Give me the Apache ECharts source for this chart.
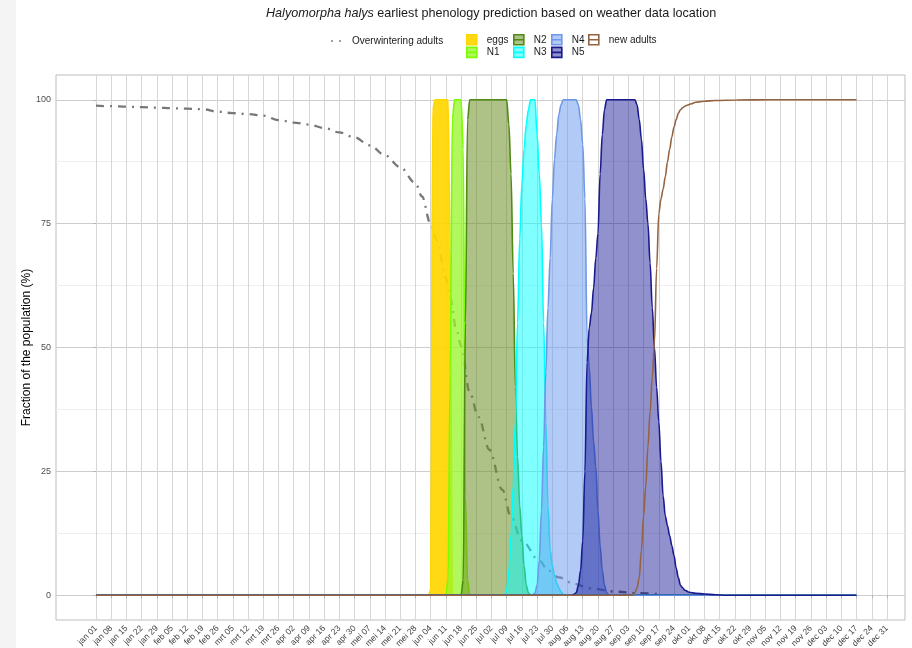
<!DOCTYPE html>
<html>
<head>
<meta charset="utf-8">
<script src="https://cdn.jsdelivr.net/npm/echarts@6/dist/echarts.min.js"></script>
<style>
html,body{margin:0;padding:0;background:#ffffff;}
#chart{width:912px;height:648px;}
</style>
</head>
<body>
<div id="chart"></div>
<script>
// ---------- data (day of year, jan 01 = 0) ----------
const tickLabels = ['jan 01','jan 08','jan 15','jan 22','jan 29','feb 05','feb 12','feb 19','feb 26',
  'mrt 05','mrt 12','mrt 19','mrt 26','apr 02','apr 09','apr 16','apr 23','apr 30','mei 07','mei 14',
  'mei 21','mei 28','jun 04','jun 11','jun 18','jun 25','jul 02','jul 09','jul 16','jul 23','jul 30',
  'aug 06','aug 13','aug 20','aug 27','sep 03','sep 10','sep 17','sep 24','okt 01','okt 08','okt 15',
  'okt 22','okt 29','nov 05','nov 12','nov 19','nov 26','dec 03','dec 10','dec 17','dec 24','dec 31'];
const yTicks = [0, 25, 50, 75, 100];
const yMinorTicks = [12.5, 37.5, 62.5, 87.5];

const overwinteringAdults = [[0,98.8],[7,98.7],[14,98.6],[21,98.5],[28,98.4],[35,98.3],[42,98.2],[49,98.1],
  [56,97.6],[63,97.3],[70,97.1],[77,96.8],[84,95.9],[91,95.4],[98,95.0],[105,94.3],[112,93.4],[119,92.4],
  [126,90.8],[133,88.8],[140,86.4],[147,83.2],[150,80.5],[154,74.9],[157,71.5],[161,64],[163,60],[166,53.3],
  [168,50.3],[172,40.9],[176,36],[181,29.4],[187,21.3],[191,15.8],[196,11],[204,7],[208,5],[213,3.6],
  [220,2.3],[227,1.4],[240,0.7],[250,0.4],[260,0.2]];

const eggs = [[0,0],[153,0],[154,1],[155,98],[156,100],[162,100],[163,70],[164,0],[350,0]];

const n1 = [[0,0],[161,0],[162,3],[163,45],[164,96],[165,100],[168,100],[169,90],[170,20],[171,3],[172,0],[350,0]];

const n2 = [[0,0],[168,0],[169,3],[170,55],[171,96],[172,100],[189,100],[190,95],[191,85],[192,65],[193,42],
  [194,28],[195,18],[196,12],[197,6],[198,2],[199,0.5],[200,0],[350,0]];

const n3 = [[0,0],[188,0],[189,1],[190,5],[191,12],[192,22],[193,35],[194,55],[195,72],[196,83],[197,90],
  [198,95],[199,98],[200,100],[202,100],[203,93],[204,85],[205,75],[206,55],[207,35],[208,18],[209,9],
  [210,6],[211,4],[212,2.5],[213,1.5],[214,0.7],[215,0.2],[216,0],[350,0]];

const n4 = [[0,0],[201,0],[202,0.5],[203,2],[204,7],[205,17],[206,30],[207,45],[208,58],[209,68],[210,80],
  [211,88],[212,93],[213,97],[214,99],[215,100],[221,100],[222,99],[223,96],[224,91],[225,80],[226,52],
  [227,46],[228,38],[229,31],[230,26],[231,17],[232,10],[233,5],[234,2],[235,0.5],[236,0],[350,0]];

const n5 = [[0,0],[219,0],[220,0.2],[221,0.5],[222,2],[223,5],[224,11],[225,25],[226,47],[227,54],[228,57],
  [229,62],[230,68],[231,73],[232,85],[233,93],[234,98],[235,100],[248,100],[249,99],[250,96],[251,92],
  [252,86],[253,80],[254,75],[255,67],[256,58],[257,50],[258,42],[259,35],[260,27],[261,20],[262,16],
  [263,14],[264,12],[265,10],[266,8],[267,5.5],[268,3.5],[269,2],[270,1.5],[271,1],[273,0.6],[276,0.4],
  [280,0.25],[285,0.1],[290,0],[350,0]];

const newAdults = [[0,0],[247,0],[248,0.5],[249,1.5],[250,3.5],[251,9],[252,16],[253,22],[254,30],[255,37],
  [256,44],[257,51],[258,66],[259,77],[260,80],[261,82],[262,84.5],[263,87.5],[264,90],[265,92.5],
  [266,94.5],[267,96],[268,97.3],[269,98],[270,98.4],[271,98.7],[272,98.9],[274,99.2],[276,99.5],
  [280,99.7],[285,99.85],[295,99.95],[310,100],[350,100]];

// ---------- chart ----------
const FONT = '"Liberation Sans", Arial, sans-serif';
const tickDays = tickLabels.map((_, i) => i * 7);

function stage(name, data, lineColor, fillColor, z) {
  const s = {
    name: name, type: 'line', data: data,
    symbol: 'none', showSymbol: false,
    smooth: 0.35, smoothMonotone: 'x',
    lineStyle: { color: lineColor, width: 1.6 },
    itemStyle: { color: fillColor || lineColor },
    emphasis: { disabled: true },
    z: z
  };
  if (fillColor) s.areaStyle = { color: fillColor, opacity: 1, origin: 'auto' };
  return s;
}

const stages = [
  { name: 'eggs', data: eggs, line: '#FFD700', fill: 'rgba(255,215,0,0.92)' },
  { name: 'N1', data: n1, line: '#7CFC00', fill: 'rgba(150,245,40,0.75)' },
  { name: 'N2', data: n2, line: '#4E8A14', fill: 'rgba(107,142,35,0.55)' },
  { name: 'N3', data: n3, line: '#00FFFF', fill: 'rgba(0,255,255,0.5)' },
  { name: 'N4', data: n4, line: '#6E99E8', fill: 'rgba(100,149,237,0.5)' },
  { name: 'N5', data: n5, line: '#1A1A8F', fill: 'rgba(0,0,139,0.43)' },
  { name: 'new adults', data: newAdults, line: '#946341', fill: null }
];

const series = [{
  name: 'Overwintering adults', type: 'line', data: overwinteringAdults,
  symbol: 'none', showSymbol: false, smooth: 0.35, smoothMonotone: 'x',
  lineStyle: { color: '#787878', width: 2.3, type: [8, 6, 2, 6] },
  itemStyle: { color: '#787878' },
  emphasis: { disabled: true }, z: 2
}].concat(stages.map((s, i) => stage(s.name, s.data, s.line, s.fill, 3 + i)));

const BOX_ICON = 'path://M0,0H10V10H0Z M0,5H10';
const DOTS_ICON = 'path://M0,1a1,1 0 1,0 2,0a1,1 0 1,0 -2,0Z M8,1a1,1 0 1,0 2,0a1,1 0 1,0 -2,0Z';

const legendText = { fontSize: 10, color: '#1A1A1A', fontFamily: FONT, padding: [0, 0, 0, 5] };
function boxLegend(names, left) {
  return {
    orient: 'vertical', left: left, top: 34, itemGap: 1, itemWidth: 10, itemHeight: 10,
    selectedMode: false, padding: 0, textStyle: legendText,
    data: names.map(n => {
      const st = stages.find(s => s.name === n);
      return { name: n, icon: BOX_ICON,
        itemStyle: { color: st.fill || 'rgba(255,255,255,0)', borderColor: st.line, borderWidth: 1.6 } };
    })
  };
}

const option = {
  animation: false,
  backgroundColor: '#ffffff',
  textStyle: { fontFamily: FONT },
  title: {
    text: '{i|Halyomorpha halys}{n| earliest phenology prediction based on weather data location}',
    left: 266, top: 7, padding: 0,
    textStyle: {
      fontWeight: 'normal',
      rich: {
        i: { fontStyle: 'italic', fontWeight: 'normal', fontSize: 12.6, color: '#1A1A1A', fontFamily: FONT },
        n: { fontWeight: 'normal', fontSize: 12.6, color: '#1A1A1A', fontFamily: FONT }
      }
    }
  },
  legend: [
    {
      left: 331, top: 36, itemWidth: 10, itemHeight: 2, selectedMode: false, padding: 0,
      textStyle: Object.assign({}, legendText, { padding: [0, 0, 0, 6] }),
      data: [{ name: 'Overwintering adults', icon: DOTS_ICON, itemStyle: { color: '#7F7F7F', borderWidth: 0 } }]
    },
    boxLegend(['eggs', 'N1'], 466),
    boxLegend(['N2', 'N3'], 513),
    boxLegend(['N4', 'N5'], 551),
    boxLegend(['new adults'], 588)
  ],
  graphic: [{ type: 'rect', left: 0, top: 0, shape: { width: 16, height: 648 }, style: { fill: '#F4F4F4' }, z: -10 }],
  grid: {
    left: 56, right: 7, top: 75, bottom: 28,
    show: true, borderColor: '#BDBDBD', borderWidth: 1, backgroundColor: 'transparent',
    containLabel: false, outerBoundsMode: 'none'
  },
  xAxis: {
    type: 'value', min: -18.4, max: 372.3,
    axisLine: { show: false },
    axisTick: { show: true, customValues: tickDays, length: 3, lineStyle: { color: '#B3B3B3' } },
    axisLabel: {
      customValues: tickDays, rotate: 45, fontSize: 8.5, color: '#404040', margin: 7, fontFamily: FONT,
      formatter: v => tickLabels[Math.round(v / 7)] || ''
    },
    splitLine: { show: true, lineStyle: { color: '#D6D6D6', width: 1 } }
  },
  yAxis: [{
    type: 'value', min: -5, max: 105,
    name: 'Fraction of the population (%)', nameLocation: 'middle', nameGap: 23, nameMoveOverlap: false,
    nameTextStyle: { fontSize: 12, color: '#000000', fontFamily: FONT },
    axisLine: { show: false },
    axisTick: { show: true, customValues: yTicks, length: 3, lineStyle: { color: '#B3B3B3' } },
    axisLabel: { customValues: yTicks, fontSize: 9, color: '#4D4D4D', margin: 5, fontFamily: FONT },
    splitLine: { show: true, lineStyle: { color: '#CDCDCD', width: 1 } }
  }, {
    type: 'value', min: -5, max: 105, position: 'left',
    axisLine: { show: false },
    axisTick: { show: false, customValues: yMinorTicks },
    axisLabel: { show: false, customValues: yMinorTicks },
    splitLine: { show: true, lineStyle: { color: '#EFEFEF', width: 1 } }
  }],
  series: series
};

const chart = echarts.init(document.getElementById('chart'));
chart.setOption(option);
</script>
</body>
</html>
